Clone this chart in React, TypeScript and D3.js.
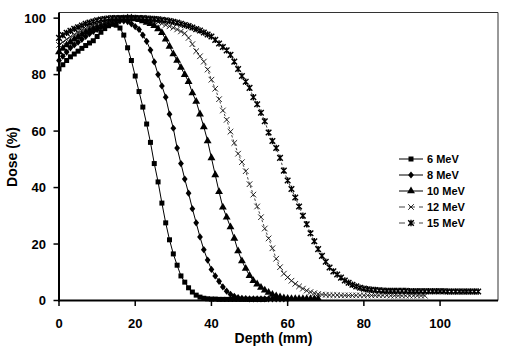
import React from "react";
import * as d3 from "d3";

// Depth sampled every 1 mm starting at 0 mm (index = depth in mm)
const dose6 = [82,83.5,85,86.3,87.3,88.3,89.3,90.3,91.2,92,93.5,95,96.3,97.3,97.8,97.5,96.5,94,89.5,85,79.5,74,68.5,62.5,56,48.5,42,34.5,27.5,21.5,16.5,12.5,8.7,6.5,4.5,3,1.9,1.2,0.8,0.6,0.5,0.5,0.4,0.4,0.4,0.4,0.4,0.4,0.4,0.4,0.4,0.4,0.4,0.4,0.4];
const dose8 = [85,86.5,88,89.5,90.5,91.5,92.5,93.5,94.5,95.3,96,96.8,97.5,98,98.5,98.8,99,99,98.8,98,97,96,94,91.8,88.7,84.5,80,76,72,66,61,54,48.5,43,38,32.5,27.5,22.5,18,14.3,11,8.7,6.8,4.8,3.3,2.2,1.5,1,0.8,0.7,0.6,0.6,0.6,0.6,0.6,0.6,0.6,0.6,0.6,0.6,0.6];
const dose10 = [88,89.3,90.5,91.5,92.5,93.4,94.2,95,95.7,96.3,96.9,97.4,97.9,98.3,98.7,99,99.6,99.8,100,100,99.8,99.4,99,98.5,98,97.3,96.2,94.8,92.5,90,87.3,85,82.5,80,77.5,73.5,70.5,66,61.5,56.5,50.5,44.5,38.5,33,29.5,26,22,17.5,14,11.3,8.8,7,5.8,4.6,3.6,2.8,2.1,1.6,1.2,0.9,0.7,0.6,0.6,0.6,0.6,0.6,0.6,0.6,0.6];
const dose12 = [90.5,91.5,92.5,93.4,94.2,95,95.7,96.3,96.9,97.4,97.8,98.2,98.6,98.9,99.2,99.5,99.7,99.9,100,100,100,99.9,99.8,99.6,99.3,99,98.6,98.1,97.6,97.1,96.6,96,95.3,94.6,93,90.8,88.3,86.5,84.6,81.8,78.2,75,71.3,67.3,64,59.8,55.8,52,49,45.8,41.2,37.5,33.3,29.5,25.5,22,18.5,14.8,11.8,9.5,8.2,7,5.9,5,4.2,3.5,3,2.6,2.3,2.1,2,1.9,1.9,1.9,1.8,1.8,1.8,1.8,1.8,1.8,1.8,1.8,1.8,1.8,1.8,1.8,1.8,1.7,1.7,1.7,1.7,1.7,1.7,1.7,1.7,1.7,1.7];
const dose15 = [93,94,94.8,95.5,96.2,96.8,97.4,98,98.4,98.8,99.2,99.5,99.7,99.9,100,100,100,100,100,100,100,100,100,99.9,99.8,99.7,99.6,99.4,99.2,99,98.7,98.4,98,97.6,97.2,96.7,96.1,95.6,94.9,94.2,93.5,92.3,91,89.8,88.6,87,84.6,82,79.5,77.5,75.3,72,69.5,66.5,63.5,59.5,56.5,54,50.5,46,42.5,39.5,36.5,33.3,30,27,23.8,21,18.2,15.8,13.7,11.7,10.3,9.2,8.1,7.1,6.3,5.6,5,4.5,4.2,4,3.8,3.7,3.6,3.5,3.4,3.4,3.4,3.4,3.4,3.4,3.3,3.3,3.3,3.3,3.3,3.3,3.3,3.3,3.3,3.3,3.2,3.2,3.2,3.2,3.2,3.2,3.2,3.2,3.2];

const seriesNames = ["6 MeV", "8 MeV", "10 MeV", "12 MeV", "15 MeV"];
const seriesValues = [dose6, dose8, dose10, dose12, dose15];
const markerKinds = ["square", "diamond", "triangle", "cross", "star"];
const xTicks = [0, 20, 40, 60, 80, 100];
const yTicks = [0, 20, 40, 60, 80, 100];

const W = 512, H = 356;
const left = 59, right = 498, top = 12.5, bottom = 300.5;
const FONT = "'Liberation Sans', Arial, sans-serif";

const x = d3.scaleLinear().domain([0, 115.2]).range([left, right]);
const y = d3.scaleLinear().domain([0, 102]).range([bottom, top]);

function Marker({ kind, cx, cy }: { kind: string; cx: number; cy: number }) {
  const t = `translate(${cx},${cy})`;
  if (kind === "square") {
    return <path transform={t} d={d3.symbol().type(d3.symbolSquare).size(25)()!} fill="#000" />;
  }
  if (kind === "diamond") {
    return <path transform={t} d="M0,-3.6L2.9,0L0,3.6L-2.9,0Z" fill="#000" />;
  }
  if (kind === "triangle") {
    return <path transform={t} d={d3.symbol().type(d3.symbolTriangle).size(27)()!} fill="#000" />;
  }
  if (kind === "cross") {
    return <path transform={t} d="M-2.8,-2.8L2.8,2.8M-2.8,2.8L2.8,-2.8" stroke="#111" strokeWidth={0.9} fill="none" />;
  }
  return <path transform={t} d="M-2.8,-2.8L2.8,2.8M-2.8,2.8L2.8,-2.8M0,-3.2L0,3.2" stroke="#000" strokeWidth={1.4} fill="none" />;
}

export default function App() {
  const line = d3.line<number>().x((_, i) => x(i)).y((d) => y(d));
  const legendY = [159, 175, 191, 207, 223];
  return (
    <svg width={W} height={H} style={{ position: "absolute", left: 0, top: 0, background: "#fff" }} fontFamily={FONT}>
      <rect x={0} y={0} width={W} height={H} fill="#fff" />
      {/* frame */}
      <line x1={left} x2={right} y1={top} y2={top} stroke="#333" strokeWidth={1} />
      <line x1={right} x2={right} y1={top} y2={bottom} stroke="#333" strokeWidth={1} />
      {/* series */}
      {seriesValues.map((vals, si) => (
        <g key={si}>
          <path
            d={line(vals)!}
            fill="none"
            stroke={si >= 3 ? "#444" : "#000"}
            strokeWidth={1}
            strokeDasharray={si >= 3 ? "2.5,2" : undefined}
          />
          {vals.map((v, i) => (
            <Marker key={i} kind={markerKinds[si]} cx={x(i)} cy={y(v)} />
          ))}
        </g>
      ))}
      {/* axes */}
      <line x1={left} x2={left} y1={top} y2={bottom + 1} stroke="#000" strokeWidth={2} />
      <line x1={left - 1} x2={right} y1={bottom} y2={bottom} stroke="#000" strokeWidth={2} />
      {xTicks.map((t) => (
        <g key={t}>
          <line x1={x(t)} x2={x(t)} y1={bottom} y2={bottom + 5.5} stroke="#000" strokeWidth={1.5} />
          <text x={x(t)} y={327.5} textAnchor="middle" fontSize={13} fontWeight="bold">{t}</text>
        </g>
      ))}
      {yTicks.map((t) => (
        <g key={t}>
          <line x1={left - 5.5} x2={left} y1={y(t)} y2={y(t)} stroke="#000" strokeWidth={1.5} />
          <text x={46} y={y(t) + 4.7} textAnchor="end" fontSize={13} fontWeight="bold">{t}</text>
        </g>
      ))}
      <text x={(left + right) / 2 - 5} y={343} textAnchor="middle" fontSize={14} fontWeight="bold">Depth (mm)</text>
      <text transform={`translate(17,157) rotate(-90)`} textAnchor="middle" fontSize={14} fontWeight="bold">Dose (%)</text>
      {/* legend */}
      {seriesNames.map((name, i) => (
        <g key={name}>
          <line x1={399} x2={423} y1={legendY[i]} y2={legendY[i]} stroke={i >= 3 ? "#444" : "#000"} strokeWidth={1} strokeDasharray={i >= 3 ? "6,4" : undefined} />
          <Marker kind={markerKinds[i]} cx={411} cy={legendY[i]} />
          <text x={427} y={legendY[i] + 4} fontSize={11} fontWeight="bold">{name}</text>
        </g>
      ))}
    </svg>
  );
}
